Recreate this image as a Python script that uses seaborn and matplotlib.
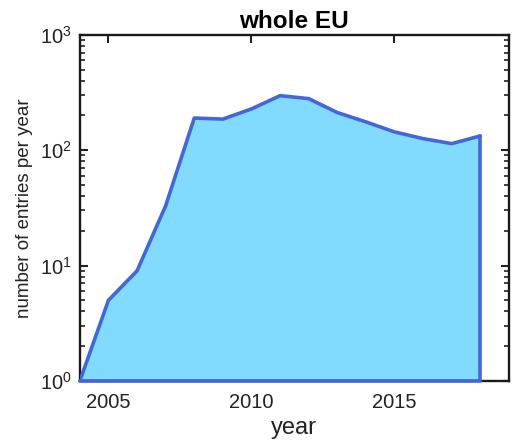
import seaborn as sns
import pandas as pd
import numpy as np
import matplotlib.pyplot as plt
from matplotlib.ticker import LogLocator, NullFormatter

years = [2004, 2005, 2006, 2007, 2008, 2009, 2010, 2011, 2012, 2013, 2014, 2015, 2016, 2017, 2018]
entries = [1, 5, 9, 33, 190, 186, 228, 297, 280, 212, 176, 144, 126, 114, 133]
x_ticks = [2005, 2010, 2015]

sns.set_style("ticks")
plt.rcParams['font.family'] = ['Liberation Sans', 'DejaVu Sans']
plt.rcParams['mathtext.fontset'] = 'custom'
plt.rcParams['mathtext.rm'] = 'Liberation Sans'

data = pd.DataFrame({"year": years, "entries": entries})

fig = plt.figure(figsize=(5.29, 4.47), dpi=100)
ax = fig.add_axes([0.151, 0.148, 0.811, 0.774])

# filled area down to the bottom of the log axis
ax.fill_between(data["year"], 1, data["entries"], color="#80dbff", linewidth=0, zorder=1)
# outline: curve, right edge and base
sns.lineplot(data=data, x="year", y="entries", color="#4466dd", linewidth=2.6, ax=ax, zorder=5)
ax.plot([years[-1], years[-1]], [1, entries[-1]], color="#4466dd", linewidth=2.6, zorder=5)
ax.plot([years[0], years[-1]], [1, 1], color="#4466dd", linewidth=2.6, zorder=5, clip_on=False)

ax.set_yscale("log")
ax.set_xlim(2004, 2019)
ax.set_ylim(1, 1000)
ax.set_xticks(x_ticks)
ax.yaxis.set_major_locator(LogLocator(base=10, numticks=10))
ax.yaxis.set_minor_locator(LogLocator(base=10, subs=np.arange(2, 10), numticks=10))
ax.yaxis.set_minor_formatter(NullFormatter())

ax.tick_params(axis="both", which="major", direction="in", length=6, width=1.5,
               top=True, right=True, labelsize=14.5, colors="#222222")
ax.tick_params(axis="x", which="major", pad=9)
ax.tick_params(axis="y", which="major", pad=6)
ax.tick_params(axis="y", which="minor", direction="in", length=3.5, width=1.2,
               left=True, right=True, colors="#222222")
for s in ax.spines.values():
    s.set_linewidth(1.7)
    s.set_color("#1a1a1a")
    s.set_zorder(4)

ax.set_title("whole EU", fontsize=17.5, fontweight="bold", color="black", pad=5)
ax.set_xlabel("year", fontsize=17, color="#222222", labelpad=3)
ax.set_ylabel("number of entries per year", fontsize=13.5, color="#222222", labelpad=5)

fig.savefig("out.png", dpi=100)
